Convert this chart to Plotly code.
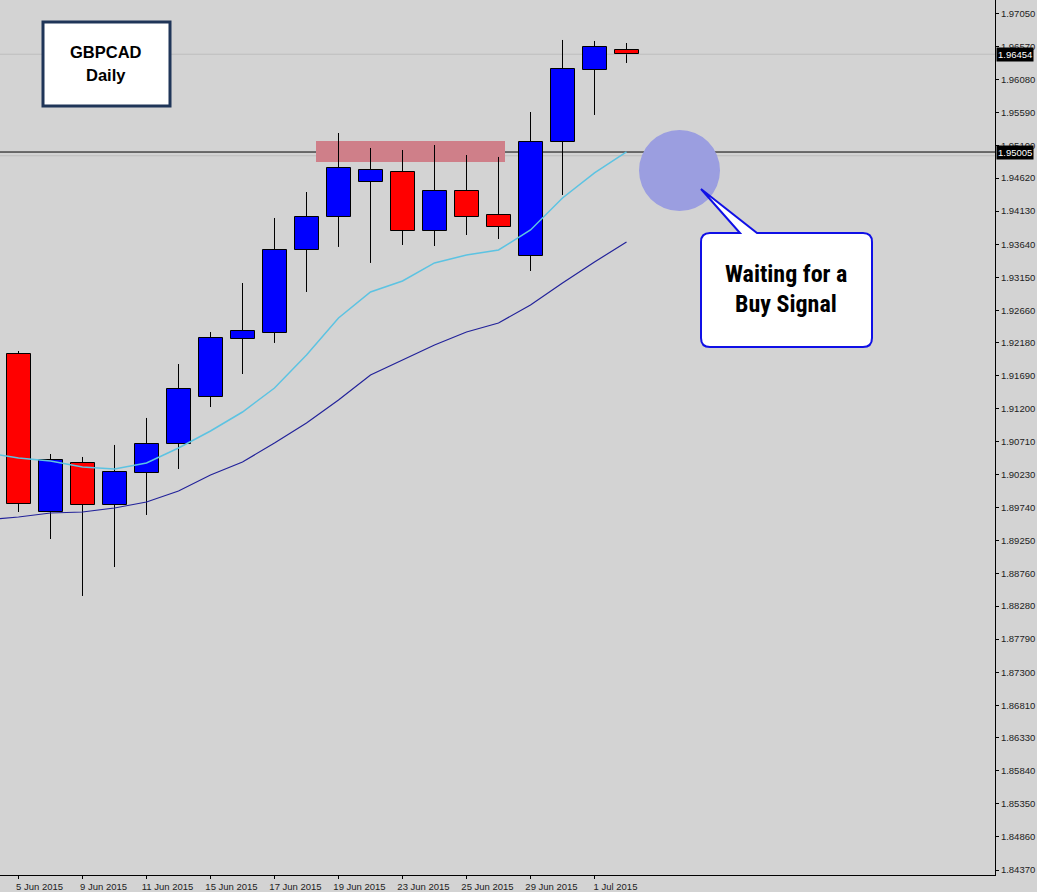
import plotly.graph_objects as go

# ---------------- data ----------------
dates = ["5 Jun 2015", "8 Jun 2015", "9 Jun 2015", "10 Jun 2015", "11 Jun 2015",
         "12 Jun 2015", "15 Jun 2015", "16 Jun 2015", "17 Jun 2015", "18 Jun 2015",
         "19 Jun 2015", "22 Jun 2015", "23 Jun 2015", "24 Jun 2015", "25 Jun 2015",
         "26 Jun 2015", "29 Jun 2015", "30 Jun 2015", "1 Jul 2015", "2 Jul 2015"]
opens = [1.92014, 1.89673, 1.90399, 1.89777, 1.90251, 1.90680, 1.91377, 1.92236, 1.92325, 1.93554,
         1.94043, 1.94561, 1.94710, 1.93836, 1.94428, 1.94073, 1.93465, 1.95154, 1.96220, 1.96517]
highs = [1.92058, 1.90532, 1.90488, 1.90666, 1.91066, 1.91865, 1.92339, 1.93065, 1.94028, 1.94413,
         1.95287, 1.95065, 1.95035, 1.95109, 1.94961, 1.94932, 1.95598, 1.96665, 1.96650, 1.96620]
lows = [1.89673, 1.89273, 1.88429, 1.88858, 1.89629, 1.90310, 1.91228, 1.91717, 1.92177, 1.92932,
        1.93599, 1.93362, 1.93628, 1.93613, 1.93776, 1.93717, 1.93243, 1.94369, 1.95554, 1.96324]
closes = [1.89792, 1.90443, 1.89777, 1.90266, 1.90680, 1.91495, 1.92251, 1.92354, 1.93554, 1.94043,
          1.94769, 1.94739, 1.93836, 1.94428, 1.94043, 1.93895, 1.95154, 1.96235, 1.96561, 1.96454]

# moving averages (first value belongs to the bar before 5 Jun)
ma_fast = [1.90547, 1.90473, 1.90429, 1.90340, 1.90310, 1.90399, 1.90621, 1.90873, 1.91154, 1.91510,
           1.91999, 1.92547, 1.92932, 1.93095, 1.93362, 1.93480, 1.93554, 1.93850, 1.94324, 1.94695,
           1.95006]
ma_slow = [1.89555, 1.89599, 1.89658, 1.89673, 1.89732, 1.89821, 1.89984, 1.90221, 1.90414, 1.90695,
           1.90991, 1.91332, 1.91703, 1.91925, 1.92147, 1.92339, 1.92473, 1.92739, 1.93065, 1.93376,
           1.93673]

date_tick_labels = ["5 Jun 2015", "9 Jun 2015", "11 Jun 2015", "15 Jun 2015", "17 Jun 2015",
                    "19 Jun 2015", "23 Jun 2015", "25 Jun 2015", "29 Jun 2015", "1 Jul 2015"]
price_ticks = [1.97050, 1.96570, 1.96080, 1.95590, 1.95100, 1.94620, 1.94130, 1.93640, 1.93150,
               1.92660, 1.92180, 1.91690, 1.91200, 1.90710, 1.90230, 1.89740, 1.89250, 1.88760,
               1.88280, 1.87790, 1.87300, 1.86810, 1.86330, 1.85840, 1.85350, 1.84860, 1.84370]

resistance_level = 1.95005
resistance_zone = (1.94858, 1.95169)
bid_price = 1.96454

# ---------------- layout geometry ----------------
W, H = 1037, 892
PLOT_W, PLOT_H = 995, 875
X_RANGE = [-0.578125, 30.515625]   # 32 px per bar, bar centres on half pixels
Y_RANGE = [1.84296, 1.97257]


def px2x(px):
    return X_RANGE[0] + px / PLOT_W * (X_RANGE[1] - X_RANGE[0])


def px2y(py):
    return Y_RANGE[1] - py / PLOT_H * (Y_RANGE[1] - Y_RANGE[0])


idx = list(range(len(dates)))
ma_idx = list(range(-1, len(dates)))

BG = "#d3d3d3"
UP = "#0000ff"
DOWN = "#ff0000"
TICK_FONT = dict(family="Liberation Sans, Arial, sans-serif", size=9.5, color="#222222")
NARROW = "Roboto Condensed, Liberation Sans Narrow, DejaVu Sans Condensed, sans-serif"

fig = go.Figure()

# wicks (above and below body)
wx, wy = [], []
for i, o, h, l, c in zip(idx, opens, highs, lows, closes):
    top, bot = max(o, c), min(o, c)
    wx += [i, i, None, i, i, None]
    wy += [h, top, None, bot, l, None]
fig.add_trace(go.Scatter(x=wx, y=wy, mode="lines", line=dict(color="black", width=1),
                         hoverinfo="skip", showlegend=False))

# moving averages
fig.add_trace(go.Scatter(x=ma_idx, y=ma_slow, mode="lines", line=dict(color="#22229a", width=1.2),
                         hoverinfo="skip", showlegend=False))
fig.add_trace(go.Scatter(x=ma_idx, y=ma_fast, mode="lines", line=dict(color="#5cc3e2", width=1.5),
                         hoverinfo="skip", showlegend=False))

# bodies
fig.add_trace(go.Bar(
    x=idx,
    base=[min(o, c) for o, c in zip(opens, closes)],
    y=[abs(c - o) for o, c in zip(opens, closes)],
    width=0.75,
    marker=dict(color=[UP if c >= o else DOWN for o, c in zip(opens, closes)],
                line=dict(color="black", width=1)),
    hoverinfo="skip", showlegend=False))

shapes = []
# resistance zone
shapes.append(dict(type="rect", xref="x", yref="y", x0=px2x(316), x1=px2x(505),
                   y0=resistance_zone[0], y1=resistance_zone[1],
                   fillcolor="#cf7f89", line=dict(width=0), layer="below"))
# faint gray lines
shapes.append(dict(type="line", xref="paper", yref="y", x0=0, x1=1, y0=bid_price, y1=bid_price,
                   line=dict(color="#bdbdbd", width=1), layer="below"))
shapes.append(dict(type="line", xref="paper", yref="y", x0=0, x1=1, y0=1.94950, y1=1.94950,
                   line=dict(color="#bdbdbd", width=1), layer="below"))
# circle
shapes.append(dict(type="circle", xref="x", yref="y",
                   x0=px2x(639), x1=px2x(720), y0=px2y(130), y1=px2y(211),
                   fillcolor="#9b9ee0", line=dict(width=0), layer="below"))
# resistance line
shapes.append(dict(type="line", xref="paper", yref="y", x0=0, x1=1,
                   y0=resistance_level, y1=resistance_level,
                   line=dict(color="black", width=1), layer="below"))

# title box
shapes.append(dict(type="rect", xref="paper", yref="paper",
                   x0=43 / PLOT_W, x1=170 / PLOT_W, y0=1 - 106 / PLOT_H, y1=1 - 22 / PLOT_H,
                   fillcolor="white", line=dict(color="#1f3558", width=3), layer="above"))

# callout bubble with tail
bx0, bx1, by0, by1, r = 701, 872, 233, 347, 9
tail_a, tail_b, tip = (740, 233), (757, 233), (701, 189)


def P(px, py):
    return f"{px2x(px)},{px2y(py)}"


path = (f"M{P(bx0 + r, by0)} L{P(*tail_a)} L{P(*tip)} L{P(*tail_b)} L{P(bx1 - r, by0)} "
        f"Q{P(bx1, by0)} {P(bx1, by0 + r)} L{P(bx1, by1 - r)} Q{P(bx1, by1)} {P(bx1 - r, by1)} "
        f"L{P(bx0 + r, by1)} Q{P(bx0, by1)} {P(bx0, by1 - r)} L{P(bx0, by0 + r)} "
        f"Q{P(bx0, by0)} {P(bx0 + r, by0)} Z")
shapes.append(dict(type="path", xref="x", yref="y", path=path, fillcolor="white",
                   line=dict(color="#1010e6", width=2), layer="above"))


def label(text, x, y, font, **kw):
    return dict(text=text, x=x, y=y, showarrow=False, xanchor="center", yanchor="middle",
                font=font, **kw)


title_font = dict(family="Liberation Sans, Arial, sans-serif", size=16.5, color="black")
callout_font = dict(family=NARROW, size=24, color="black")
annotations = [
    label("<b>GBPCAD</b>", 106 / PLOT_W, 1 - 52 / PLOT_H, title_font, xref="paper", yref="paper"),
    label("<b>Daily</b>", 106 / PLOT_W, 1 - 75 / PLOT_H, title_font, xref="paper", yref="paper"),
    label("<b>Waiting for a</b>", px2x(786), px2y(274), callout_font, xref="x", yref="y"),
    label("<b>Buy Signal</b>", px2x(786), px2y(304), callout_font, xref="x", yref="y"),
    dict(text=f"{bid_price:.5f}", xref="paper", yref="y", x=1, y=bid_price, xanchor="left",
         yanchor="middle", xshift=1, showarrow=False, bgcolor="black", borderpad=1,
         font=dict(family="Liberation Sans, Arial", size=9.5, color="white")),
    dict(text=f"{resistance_level:.5f}", xref="paper", yref="y", x=1, y=resistance_level,
         xanchor="left", yanchor="middle", xshift=1, showarrow=False, bgcolor="black", borderpad=1,
         font=dict(family="Liberation Sans, Arial", size=9.5, color="white")),
]

fig.update_layout(
    width=W, height=H,
    margin=dict(l=0, r=W - PLOT_W, t=0, b=H - PLOT_H, pad=0),
    paper_bgcolor=BG, plot_bgcolor=BG,
    showlegend=False, hovermode=False,
    shapes=shapes, annotations=annotations,
    bargap=0,
    xaxis=dict(range=X_RANGE, showgrid=False, zeroline=False,
               tickvals=idx[::2], ticktext=date_tick_labels,
               ticks="outside", ticklen=3, tickcolor="black", ticklabelshift=21,
               showline=True, linecolor="black", linewidth=1, tickfont=TICK_FONT),
    yaxis=dict(range=Y_RANGE, side="right", showgrid=False, zeroline=False,
               tickvals=price_ticks, ticktext=[f"{v:.5f}" for v in price_ticks],
               ticks="outside", ticklen=3, tickcolor="black",
               showline=True, linecolor="black", linewidth=1, tickfont=TICK_FONT),
)

fig.write_html("out.html", config={"displayModeBar": False},
               post_script="document.body.style.margin='0';document.body.style.background='#d3d3d3';")
